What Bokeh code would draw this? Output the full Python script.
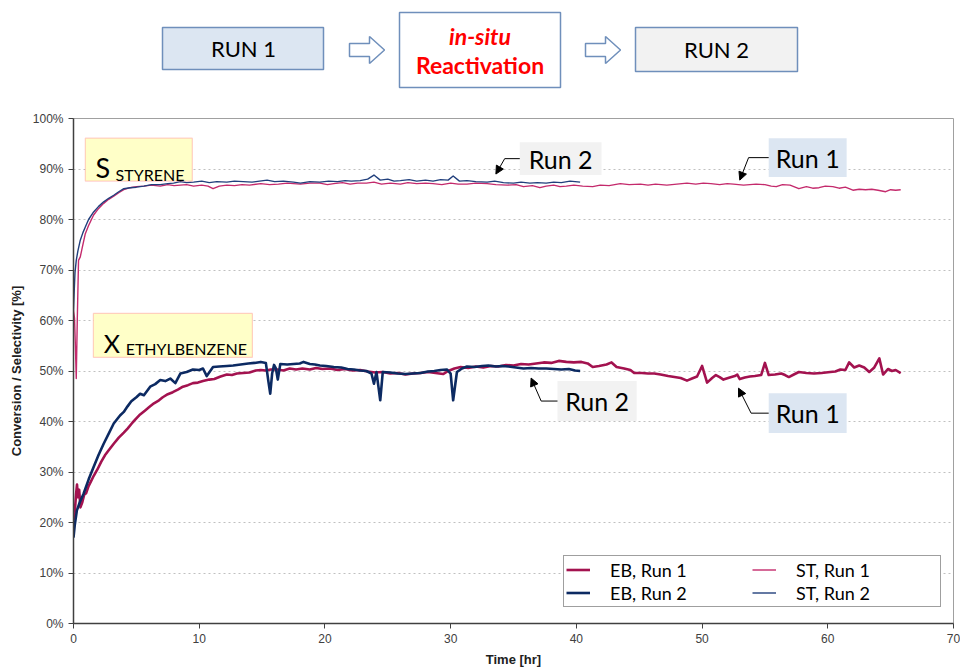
from bokeh.plotting import figure
from bokeh.models import (Range1d, ColumnDataSource, Label, BoxAnnotation, Arrow, NormalHead,
                          Legend, LegendItem, PrintfTickFormatter, FixedTicker)
from bokeh.layouts import column
from bokeh.embed import file_html
from bokeh.resources import INLINE

# ---------------- data ----------------
x_ticks = [0, 10, 20, 30, 40, 50, 60, 70]
y_ticks = [0, 10, 20, 30, 40, 50, 60, 70, 80, 90, 100]

eb1_t = [0.0, 0.1, 0.2, 0.28, 0.35, 0.45, 0.55, 0.7, 0.85, 1.0, 1.2, 1.4, 1.6, 1.9, 2.2, 2.5, 2.8, 3.2,
         3.6, 4.0, 4.3, 4.7, 5.0, 5.3, 5.7, 6.0, 6.4, 6.8, 7.1, 7.5, 7.9, 8.3, 8.7, 9.1, 9.5, 9.9,
         10.3, 10.8, 11.2, 11.7, 12.2, 12.6, 13.0, 13.5, 14.0, 14.5, 14.9, 15.3, 15.7, 16.2, 16.7,
         17.2, 17.7, 18.2, 18.8, 19.3, 19.8, 20.4, 21.0, 21.6, 22.2, 22.8, 23.4, 24.0, 24.6, 25.2,
         25.8, 26.4, 27.0, 27.6, 28.2, 28.8, 29.4, 29.8, 30.3, 30.8, 31.4, 32.0, 32.6, 33.2, 33.8,
         34.4, 35.0, 35.6, 36.2, 36.8, 37.4, 38.0, 38.6, 39.2, 39.8, 40.4, 40.9, 41.3, 41.8, 42.4,
         42.8, 43.2, 43.8, 44.3, 44.6, 45.2, 45.7, 46.2, 46.7, 47.3, 47.8, 48.3, 48.8, 49.2, 49.6,
         50.0, 50.4, 50.8, 51.1, 51.4, 51.7, 52.2, 52.6, 52.8, 53.0, 53.4, 53.8, 54.2, 54.7, 55.0,
         55.3, 55.8, 56.3, 56.6, 56.9, 57.3, 57.7, 58.3, 58.9, 59.5, 60.2, 60.6, 61.0, 61.4, 61.7,
         62.1, 62.5, 62.9, 63.3, 63.7, 64.1, 64.4, 64.8, 65.1, 65.4, 65.8]
eb1_v = [20.5, 22.0, 25.5, 27.5, 25.0, 26.5, 23.0, 24.0, 25.5, 25.8, 27.2, 28.2, 29.2, 30.5, 32.0, 33.3,
         34.3, 35.6, 36.8, 37.8, 38.6, 39.8, 40.6, 41.4, 42.2, 42.8, 43.6, 44.2, 44.8, 45.4, 45.8,
         46.3, 46.9, 47.2, 47.6, 47.7, 48.0, 48.3, 48.4, 48.9, 49.3, 49.2, 49.5, 49.6, 49.7, 50.1,
         50.2, 50.1, 50.3, 50.3, 50.1, 50.5, 50.3, 50.5, 50.3, 50.6, 50.4, 50.5, 50.2, 50.4, 50.1,
         50.2, 49.9, 49.7, 49.8, 49.5, 49.6, 49.3, 49.5, 49.6, 49.8, 49.6, 49.4, 50.0, 50.5, 50.8,
         50.6, 50.9, 50.7, 51.0, 50.9, 51.2, 51.1, 51.4, 51.3, 51.5, 51.7, 51.6, 52.0, 51.8, 51.7,
         51.8, 51.5, 50.8, 51.0, 51.3, 51.7, 50.8, 50.5, 50.2, 49.6, 49.6, 49.5, 49.5, 49.3, 49.0,
         48.8, 48.6, 48.1, 48.5, 48.9, 51.0, 47.7, 48.6, 49.2, 48.8, 48.3, 48.7, 49.0, 49.3, 48.4,
         48.7, 48.9, 49.0, 49.2, 51.6, 49.2, 49.3, 49.5, 49.2, 48.8, 49.3, 49.8, 49.6, 49.5, 49.6,
         49.8, 49.9, 50.3, 50.2, 51.7, 50.7, 51.1, 50.7, 49.8, 50.7, 52.5, 49.3, 50.4, 50.0, 50.2,
         49.6]

eb2_t = [0.0, 0.1, 0.27, 0.5, 0.8, 1.2, 1.6, 2.0, 2.4, 2.8, 3.2, 3.7, 4.0, 4.3, 4.6, 5.0, 5.3, 5.6,
         6.1, 6.5, 6.9, 7.3, 7.7, 8.1, 8.5, 9.0, 9.5, 10.0, 10.3, 10.6, 11.1, 11.6, 12.2, 12.7,
         13.3, 13.9, 14.4, 14.9, 15.3, 15.5, 15.65, 15.8, 15.95, 16.1, 16.25, 16.45, 17.0, 17.5,
         18.0, 18.3, 18.8, 19.2, 19.6, 20.1, 20.7, 21.3, 21.8, 22.3, 22.8, 23.3, 23.7, 23.9, 24.1,
         24.25, 24.4, 24.6, 25.2, 25.8, 26.4, 27.0, 27.6, 28.2, 28.7, 29.2, 29.7, 30.0, 30.2, 30.5,
         30.9, 31.3, 31.9, 32.5, 33.0, 33.6, 34.1, 34.6, 35.2, 35.8, 36.4, 37.0, 37.6, 38.2, 38.8,
         39.4, 39.9, 40.3]
eb2_v = [17.0, 19.5, 22.4, 24.0, 25.7, 28.5, 31.0, 33.4, 35.6, 37.6, 39.6, 41.2, 41.9, 43.0, 44.0,
         44.8, 45.5, 45.2, 46.9, 47.4, 48.2, 48.0, 48.5, 47.6, 49.5, 49.8, 50.3, 50.2, 50.5, 49.0,
         50.8, 50.9, 51.0, 51.1, 51.3, 51.5, 51.6, 51.8, 51.6, 48.0, 45.5, 49.5, 51.2, 50.5, 48.3,
         51.4, 51.3, 51.4, 51.5, 51.8, 51.4, 51.3, 51.1, 51.0, 50.8, 50.7, 50.4, 50.3, 50.1, 50.0,
         49.5, 47.5, 49.8, 47.0, 44.2, 49.8, 49.7, 49.5, 49.4, 49.5, 49.6, 49.9, 50.0, 50.2, 50.3,
         49.5, 44.2, 49.8, 50.5, 50.9, 50.8, 51.0, 51.1, 50.9, 51.0, 50.9, 50.7, 50.5, 50.6, 50.5,
         50.5, 50.4, 50.3, 50.4, 50.1, 50.0]

st1_t = [0.0, 0.08, 0.15, 0.22, 0.3, 0.4, 0.54, 0.7, 0.94, 1.2, 1.6, 2.0, 2.4, 2.8, 3.2, 3.6, 4.0,
         4.5, 5.0, 5.6, 6.2, 6.9, 7.5, 8.0, 8.5, 9.0, 9.55, 10.2, 10.7, 11.1, 11.6, 12.2, 12.8, 13.4,
         14.0, 14.9, 15.6, 16.3, 17.0, 17.5, 18.05, 18.8, 19.6, 20.2, 20.7, 21.4, 22.0, 22.6, 23.3,
         23.9, 24.5, 25.2, 26.0, 26.6, 27.3, 28.0, 28.6, 29.3, 30.0, 30.6, 31.3, 32.0, 32.9, 33.6,
         34.5, 35.2, 35.8, 36.5, 37.1, 37.6, 38.2, 38.7, 39.2, 39.8, 40.5, 41.3, 41.9, 42.6, 43.5,
         44.2, 45.1, 45.7, 46.3, 47.2, 48.0, 48.8, 49.5, 50.1, 50.7, 51.4, 52.0, 52.5, 53.3, 54.3,
         55.0, 55.5, 55.9, 56.4, 57.0, 57.4, 57.7, 58.3, 58.8, 59.3, 59.8, 60.4, 60.9, 61.4, 62.0,
         62.5, 63.0, 63.5, 64.0, 64.6, 65.0, 65.4, 65.8]
st1_v = [62.0, 60.5, 55.0, 48.5, 60.0, 71.9, 72.6, 74.5, 77.2, 78.8, 80.9, 82.2, 83.2, 84.0, 84.6,
         85.3, 85.9, 86.3, 86.5, 86.6, 86.8, 86.6, 86.9, 86.7, 86.8, 86.9, 86.6, 86.8, 86.6, 86.1,
         86.6, 86.8, 86.7, 86.9, 86.8, 87.1, 86.9, 87.0, 87.2, 87.1, 87.0, 87.2, 87.2, 86.9, 87.1,
         87.3, 87.0, 87.2, 87.2, 87.4, 87.0, 87.2, 87.0, 87.3, 87.1, 87.2, 87.1, 86.9, 87.2, 87.0,
         87.0, 87.2, 87.1, 86.9, 86.8, 86.9, 86.5, 86.7, 86.3, 86.6, 86.8, 86.5, 86.6, 86.8, 86.6,
         86.5, 86.8, 86.7, 87.1, 86.9, 87.0, 86.8, 87.0, 86.8, 87.0, 87.2, 87.0, 87.2, 87.1, 86.9,
         87.1, 87.0, 86.8, 87.0, 86.9, 86.6, 86.5, 86.9, 86.8, 86.4, 86.1, 86.5, 86.2, 86.3, 86.6,
         86.5, 86.2, 86.4, 85.8, 86.0, 85.9, 86.0, 85.8, 85.5, 85.9, 85.8, 85.9]

st2_t = [0.0, 0.06, 0.12, 0.22, 0.35, 0.54, 0.75, 0.94, 1.2, 1.6, 2.0, 2.4, 2.8, 3.2, 3.6, 4.0, 4.5,
         5.0, 5.6, 6.2, 6.9, 7.5, 7.96, 8.5, 9.0, 9.55, 10.2, 10.8, 11.4, 12.2, 12.8, 13.5, 14.2,
         14.8, 15.4, 16.0, 16.7, 17.5, 18.05, 18.8, 19.6, 20.3, 21.0, 21.6, 22.1, 22.8, 23.4, 23.9,
         24.4, 25.0, 25.5, 26.0, 26.7, 27.3, 28.0, 28.6, 29.2, 29.8, 30.2, 30.7, 31.3, 32.0, 32.9,
         33.5, 34.2, 35.0, 35.6, 36.3, 36.9, 37.6, 38.2, 38.8, 39.5, 40.3]
st2_v = [62.0, 66.0, 69.5, 71.9, 73.8, 75.9, 77.4, 78.5, 80.0, 81.5, 82.6, 83.5, 84.2, 84.8, 85.5,
         86.1, 86.3, 86.4, 86.6, 86.9, 86.9, 87.1, 87.2, 87.5, 87.3, 87.4, 87.6, 87.3, 87.5, 87.4,
         87.6, 87.5, 87.4, 87.6, 87.8, 87.5, 87.6, 87.4, 87.2, 87.5, 87.4, 87.6, 87.5, 87.7, 87.6,
         87.7, 88.0, 88.8, 87.8, 88.0, 87.6, 87.7, 87.9, 87.6, 87.8, 87.6, 87.9, 87.8, 88.6, 87.6,
         87.7, 87.5, 87.4, 87.6, 87.3, 87.2, 87.4, 87.2, 87.3, 87.2, 87.4, 87.3, 87.6, 87.4]

series_names = ["EB, Run 1", "EB, Run 2", "ST, Run 1", "ST, Run 2"]

# ---------------- styles ----------------
C_EB1 = "#a3124f"
C_ST1 = "#c42a6c"
C_EB2 = "#0c2a62"
C_ST2 = "#213f7c"
FONT_AX = "Liberation Sans"
FONT_TX = "Lato"
BLUE_BORDER = "#6f8fbb"
W = 960
BL, BR = 73, 7          # left / right borders so both frames share x = 73..953

# ---------------- top flow diagram ----------------
top = figure(width=W, height=100, x_range=Range1d(73, 953), y_range=Range1d(100, 0),
             output_backend="svg", toolbar_location=None,
             min_border_left=BL, min_border_right=BR, min_border_top=0, min_border_bottom=0,
             x_axis_location=None, y_axis_location=None)
top.grid.visible = False
top.outline_line_color = None
top.background_fill_color = "white"

top.quad(left=[162, 399, 635], right=[323, 560, 797], top=[27, 12, 27], bottom=[69, 87, 71],
         fill_color=["#dce6f2", "#ffffff", "#f2f2f2"], line_color=BLUE_BORDER, line_width=1.5)
top.patches(xs=[[349, 369, 369, 384, 369, 369, 349], [585, 605, 605, 620, 605, 605, 585]],
            ys=[[43, 43, 36, 49.5, 63, 56, 56], [43, 43, 36, 49.5, 63, 56, 56]],
            fill_color="white", line_color=BLUE_BORDER, line_width=1.5)
for (xx, yy, txt, fstyle, fsize, col) in [
        (243, 48, "RUN 1", "normal", "22px", "black"),
        (716, 49, "RUN 2", "normal", "22px", "black"),
        (479.5, 35, "in-situ", "bold italic", "23px", "#ff0000"),
        (479.5, 64, "Reactivation", "bold", "23px", "#ff0000")]:
    top.add_layout(Label(x=xx, y=yy, text=txt, text_align="center", text_baseline="middle",
                         text_font=FONT_TX, text_font_size=fsize, text_font_style=fstyle,
                         text_color=col))

# ---------------- main chart ----------------
p = figure(width=W, height=569, x_range=Range1d(0, 70), y_range=Range1d(0, 100),
           output_backend="svg", toolbar_location=None,
           min_border_left=BL, min_border_right=BR, min_border_top=18, min_border_bottom=46)
p.background_fill_color = "white"
p.outline_line_color = "#a0a0a0"
p.outline_line_width = 1

p.xaxis.ticker = FixedTicker(ticks=x_ticks)
p.yaxis.ticker = FixedTicker(ticks=y_ticks)
p.yaxis.formatter = PrintfTickFormatter(format="%d%%")
p.xgrid.visible = False
p.ygrid.ticker = FixedTicker(ticks=y_ticks)
p.ygrid.grid_line_color = "#c0c0c0"
p.ygrid.grid_line_dash = "2 3"
p.ygrid.grid_line_width = 1

for ax in (p.xaxis[0], p.yaxis[0]):
    ax.axis_line_color = "#404040"
    ax.axis_line_width = 1.5
    ax.major_tick_line_color = "#404040"
    ax.major_tick_out = 5
    ax.major_tick_in = 0
    ax.minor_tick_line_color = None
    ax.major_label_text_font = FONT_AX
    ax.major_label_text_font_size = "12px"
    ax.major_label_text_color = "#404040"
    ax.axis_label_text_font = FONT_AX
    ax.axis_label_text_font_size = "13px"
    ax.axis_label_text_font_style = "bold"
    ax.axis_label_text_color = "#202020"
    ax.axis_label_standoff = 6
p.xaxis.axis_label_standoff = 6

p.xaxis.axis_label = "Time [hr]"
p.yaxis.axis_label = "Conversion / Selectivity [%]"

src_eb1 = ColumnDataSource(dict(t=eb1_t, v=eb1_v))
src_eb2 = ColumnDataSource(dict(t=eb2_t, v=eb2_v))
src_st1 = ColumnDataSource(dict(t=st1_t, v=st1_v))
src_st2 = ColumnDataSource(dict(t=st2_t, v=st2_v))

r_st1 = p.line("t", "v", source=src_st1, line_color=C_ST1, line_width=1.4, line_join="round")
r_st2 = p.line("t", "v", source=src_st2, line_color=C_ST2, line_width=1.4, line_join="round")
r_eb1 = p.line("t", "v", source=src_eb1, line_color=C_EB1, line_width=2.6, line_join="round")
r_eb2 = p.line("t", "v", source=src_eb2, line_color=C_EB2, line_width=2.6, line_join="round")

legend = Legend(items=[LegendItem(label=series_names[0], renderers=[r_eb1]),
                       LegendItem(label=series_names[1], renderers=[r_eb2]),
                       LegendItem(label=series_names[2], renderers=[r_st1]),
                       LegendItem(label=series_names[3], renderers=[r_st2])],
                location=(490, 16), nrows=2, orientation="vertical",
                padding=2, spacing=0, margin=0,
                glyph_width=24, glyph_height=23, label_height=23, label_width=142,
                label_standoff=20, label_text_font=FONT_TX, label_text_font_size="18px",
                label_text_color="black", border_line_color="#404040", border_line_width=1,
                background_fill_color="white", background_fill_alpha=1)
p.add_layout(legend, "center")

# annotation boxes S / X
YELLOW = "#ffffc8"
RED_BORDER = "#ff6464"
p.add_layout(BoxAnnotation(left=0.94, right=9.45, bottom=87.6, top=96.1, fill_color=YELLOW,
                           fill_alpha=1, line_color=RED_BORDER, line_width=1.2))
p.add_layout(BoxAnnotation(left=1.58, right=14.23, bottom=52.7, top=61.4, fill_color=YELLOW,
                           fill_alpha=1, line_color=RED_BORDER, line_width=1.2))
p.add_layout(Label(x=1.75, y=90.2, text="S", text_font=FONT_TX, text_font_size="27px",
                   text_baseline="alphabetic", text_color="black"))
p.add_layout(Label(x=3.35, y=88.9, text="STYRENE", text_font=FONT_TX, text_font_size="16px",
                   text_baseline="alphabetic", text_color="black"))
p.add_layout(Label(x=2.4, y=55.6, text="X", text_font=FONT_TX, text_font_size="25px",
                   text_baseline="alphabetic", text_color="black"))
p.add_layout(Label(x=4.15, y=54.4, text="ETHYLBENZENE", text_font=FONT_TX, text_font_size="16px",
                   text_baseline="alphabetic", text_color="black"))

# Run labels with arrows
run_labels = [
    # (box left, right, bottom, top, text, fill, elbow_x, tip_x, tip_y)
    (35.5, 42.0, 88.8, 95.3, "Run 2", "#f2f2f2", 34.3, 33.6, 89.0),
    (55.3, 61.5, 88.4, 96.1, "Run 1", "#dce6f2", 53.7, 53.0, 87.8),
    (38.5, 44.8, 40.1, 48.0, "Run 2", "#f2f2f2", 37.2, 36.4, 48.6),
    (55.3, 61.5, 37.7, 45.6, "Run 1", "#dce6f2", 53.9, 52.9, 46.6),
]
for (l, r, b, t, txt, fc, ex, tx, ty) in run_labels:
    ym = (b + t) / 2
    p.add_layout(BoxAnnotation(left=l, right=r, bottom=b, top=t, fill_color=fc, fill_alpha=1,
                               line_color=None))
    p.add_layout(Label(x=(l + r) / 2, y=ym, text=txt, text_align="center", text_baseline="middle",
                       text_font=FONT_TX, text_font_size="25px", text_color="black"))
    p.add_layout(Arrow(end=None, x_start=l, y_start=ym, x_end=ex, y_end=ym,
                       line_color="black", line_width=1))
    p.add_layout(Arrow(end=NormalHead(size=8, fill_color="black", line_color="black"),
                       x_start=ex, y_start=ym, x_end=tx, y_end=ty,
                       line_color="black", line_width=1))

layout = column(top, p, spacing=0)
open("out.html", "w").write(file_html(layout, INLINE))
